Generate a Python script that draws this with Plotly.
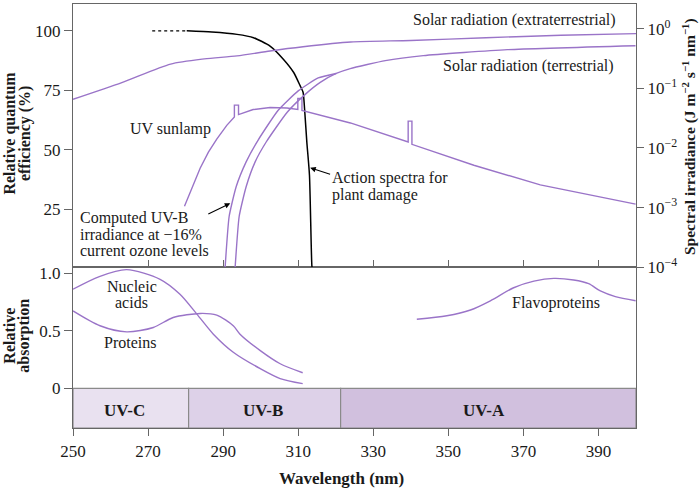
import plotly.graph_objects as go

# ---------------- data ----------------
# Solar radiation (extraterrestrial), spectral irradiance (right log axis)
ext_wl = [250, 263, 276, 285, 293.7, 302.5, 311.3, 324, 340, 360, 380, 400]
ext_irr = [0.0656, 0.125, 0.256, 0.313, 0.351, 0.425, 0.50, 0.60, 0.638, 0.708, 0.78, 0.83]

# Solar radiation (terrestrial)
ter_wl = [292.67, 293.2, 294.27, 296.13, 298.53, 301.47, 307.07, 311.87, 315.87, 320.13,
          323.87, 333.2, 343.33, 365.73, 399.87]
ter_irr = [2.69e-5, 1.0e-4, 7.08e-4, 2.24e-3, 5.85e-3, 1.26e-2, 3.98e-2, 7.94e-2, 0.126,
           0.178, 0.215, 0.293, 0.355, 0.447, 0.521]

# Computed UV-B irradiance at -16% current ozone levels
cmp_wl = [290.0, 290.53, 291.6, 293.47, 296.13, 299.33, 304.67, 310.0, 315.33, 320.13]
cmp_irr = [2.69e-5, 1.0e-4, 7.08e-4, 2.24e-3, 5.85e-3, 1.36e-2, 4.30e-2, 9.08e-2, 0.150, 0.178]

# UV sunlamp (with mercury emission spikes)
lamp_wl = [279.7, 281.65, 283.87, 286.08, 288.3, 290.97, 293.0, 293.0, 294.1, 294.1, 295.9,
           298.0, 302.5, 307.0, 309.9, 309.9, 311.0, 311.0, 323.9, 339.3, 339.3, 340.3, 340.3,
           356.8, 374.5, 399.9]
lamp_irr = [1.05e-3, 2.14e-3, 4.57e-3, 8.5e-3, 1.41e-2, 2.4e-2, 3.31e-2, 5.25e-2, 5.25e-2,
            3.63e-2, 3.98e-2, 4.42e-2, 4.79e-2, 4.68e-2, 4.42e-2, 6.76e-2, 6.76e-2, 4.27e-2,
            2.63e-2, 1.26e-2, 2.82e-2, 2.82e-2, 1.15e-2, 5.13e-3, 2.40e-3, 1.14e-3]

# Action spectra for plant damage (relative quantum efficiency, %)
act_dot_wl = [271.1, 280.3]
act_dot_eff = [100, 100]
act_wl = [280.3, 287.0, 293.7, 298.1, 302.5, 306.1, 308.8, 310.5, 311.3, 311.7, 312.3, 313.0, 313.65, 313.8]
act_eff = [100, 99.5, 98.5, 97.1, 93.6, 88.0, 82.5, 77.0, 74.2, 67.2, 53.3, 39.5, 1.25, 0]

# Relative absorption
nuc_wl = [250, 257, 264.3, 273.2, 278.5, 283.0, 287.4, 292.7, 299.9, 305.2, 311.2]
nuc_abs = [0.86, 0.97, 1.03, 0.946, 0.816, 0.644, 0.47, 0.313, 0.17, 0.084, 0.04]

prot_wl = [250, 257.2, 264.3, 271.4, 276.7, 283.9, 288.3, 292.7, 294.5, 299.9, 305.2, 311.2]
prot_abs = [0.672, 0.543, 0.49, 0.528, 0.615, 0.65, 0.635, 0.543, 0.47, 0.327, 0.213, 0.135]

flav_wl = [341.6, 349.6, 355.9, 361.2, 367.4, 372.8, 378.1, 383.4, 387.4, 390.5, 394.5, 399.9]
flav_abs = [0.60, 0.63, 0.68, 0.76, 0.873, 0.93, 0.954, 0.94, 0.908, 0.845, 0.796, 0.76]

# UV bands
band_names = ["UV-C", "UV-B", "UV-A"]
band_start = [250, 280.8, 321.3]
band_end = [280.8, 321.3, 400]
band_label_x = [263.6, 300.7, 359.4]

x_ticks = [250, 270, 290, 310, 330, 350, 370, 390]
eff_ticks = [25, 50, 75, 100]
irr_ticks = [1e-4, 1e-3, 1e-2, 1e-1, 1]
irr_ticktext = ["10<sup>−4</sup>", "10<sup>−3</sup>", "10<sup>−2</sup>", "10<sup>−1</sup>", "10<sup>0</sup>"]
abs_ticks = [0, 0.5, 1.0]
abs_ticktext = ["0", "0.5", "1.0"]

# ---------------- style ----------------
PURPLE = "#9a74c8"
FRAME = "#666666"
TXT = "#1a1a1a"
FONT = "Liberation Serif"
band_colors = ["#e9e1f0", "#ddd1e8", "#d1c0de"]
SPLIT = 162 / 427

fig = go.Figure()

def purple(x, y, xa, ya, shape="linear", smoothing=0.7):
    fig.add_trace(go.Scatter(x=x, y=y, xaxis=xa, yaxis=ya, mode="lines",
                             line=dict(color=PURPLE, width=1.4, shape=shape, smoothing=smoothing),
                             showlegend=False, hoverinfo="skip"))

purple(ext_wl, ext_irr, "x2", "y2", "spline")
purple(ter_wl, ter_irr, "x2", "y2", "spline", 0.5)
purple(cmp_wl, cmp_irr, "x2", "y2", "spline", 0.5)
purple(lamp_wl, lamp_irr, "x2", "y2")

fig.add_trace(go.Scatter(x=act_dot_wl, y=act_dot_eff, xaxis="x2", yaxis="y", mode="lines",
                         line=dict(color="black", width=1.3, dash="dot"), showlegend=False))
fig.add_trace(go.Scatter(x=act_wl, y=act_eff, xaxis="x2", yaxis="y", mode="lines",
                         line=dict(color="black", width=1.5, shape="spline", smoothing=0.6),
                         showlegend=False))

for xs, ys in [(nuc_wl, nuc_abs), (prot_wl, prot_abs), (flav_wl, flav_abs)]:
    fig.add_trace(go.Scatter(x=xs, y=ys, xaxis="x", yaxis="y3", mode="lines",
                             line=dict(color=PURPLE, width=1.4, shape="spline", smoothing=0.8),
                             showlegend=False))

shapes = []
for s, e, c in zip(band_start, band_end, band_colors):
    shapes.append(dict(type="rect", xref="x", yref="y3", x0=s, x1=e, y0=-0.345, y1=0,
                       fillcolor=c, line=dict(color="#8a8a8a", width=1.2), layer="below"))

ann = []
def txt(x, y, t, xref="x2", yref="y", size=16, xanchor="center", bold=False):
    if bold:
        t = "<b>" + t + "</b>"
    ann.append(dict(x=x, y=y, xref=xref, yref=yref, text=t, showarrow=False,
                    xanchor=xanchor, yanchor="middle",
                    font=dict(family=FONT, size=size, color=TXT)))

txt(395.2, 104.4, "Solar radiation (extraterrestrial)", xanchor="right")
txt(394.8, 85.4, "Solar radiation (terrestrial)", xanchor="right")
txt(276.1, 58.75, "UV sunlamp")
txt(318.5, 38.1, "Action spectra for", xanchor="left")
txt(318.5, 31.25, "plant damage", xanchor="left")
txt(251.25, 21.4, "Computed UV-B", xanchor="left")
txt(251.25, 14.5, "irradiance at −16%", xanchor="left")
txt(251.25, 7.8, "current ozone levels", xanchor="left")
txt(265.65, 0.888, "Nucleic", xref="x", yref="y3")
txt(265.65, 0.744, "acids", xref="x", yref="y3")
txt(265.2, 0.399, "Proteins", xref="x", yref="y3")
txt(378.7, 0.744, "Flavoproteins", xref="x", yref="y3")
for name, bx in zip(band_names, band_label_x):
    txt(bx, -0.19, name, xref="x", yref="y3", size=17, bold=True)

# axis titles as annotations (tight line spacing)
def ptitle(px, py, t, angle=-90, size=17):
    ann.append(dict(x=(px - 73) / 563, y=(428 - py) / 427, xref="paper", yref="paper",
                    text="<b>" + t + "</b>", showarrow=False, xanchor="center",
                    yanchor="middle", textangle=angle,
                    font=dict(family=FONT, size=size, color=TXT)))

ptitle(10.5, 131, "Relative quantum", size=16)
ptitle(25, 131, "efficiency (%)", size=16)
ptitle(10, 335, "Relative", size=16)
ptitle(24, 335, "absorption", size=16)
ptitle(689, 134, "Spectral irradiance (J m<sup>−2</sup> s<sup>−1</sup> nm<sup>−1</sup>)", size=15.5)
ptitle(341, 479, "Wavelength (nm)", angle=0)

# arrows
ann.append(dict(x=313.2, y=42.5, ax=318.9, ay=39.6, xref="x2", yref="y", axref="x2", ayref="y",
                text="", showarrow=True, arrowhead=2, arrowsize=1, arrowwidth=1.1,
                arrowcolor="black"))
ann.append(dict(x=291.9, y=27.6, ax=285.65, ay=22.8, xref="x2", yref="y", axref="x2", ayref="y",
                text="", showarrow=True, arrowhead=2, arrowsize=1, arrowwidth=1.1,
                arrowcolor="black"))

tickfont = dict(family=FONT, size=17, color=TXT)
common = dict(showgrid=False, zeroline=False, linecolor=FRAME, linewidth=1.2,
              tickcolor=FRAME, tickwidth=1.2, tickfont=tickfont)

fig.update_layout(
    width=700, height=488,
    margin=dict(l=73, r=64, t=1, b=60),
    paper_bgcolor="white", plot_bgcolor="rgba(0,0,0,0)",
    showlegend=False,
    shapes=shapes, annotations=ann,
    xaxis=dict(domain=[0, 1], anchor="y3", range=[250, 400], tickvals=x_ticks,
               ticks="outside", ticklen=7, showline=True, mirror=True, **common),
    xaxis2=dict(domain=[0, 1], anchor="y", range=[250, 400], tickvals=x_ticks,
                ticks="inside", ticklen=7, showticklabels=False, showline=True,
                mirror=True, matches="x", **common),
    yaxis=dict(domain=[SPLIT, 1], anchor="x2", range=[0.83, 111.25], tickvals=eff_ticks,
               ticks="outside", ticklen=8, showline=True, **common),
    yaxis2=dict(domain=[SPLIT, 1], anchor="x2", overlaying="y", side="right", type="log",
                range=[-4, 0.4167], tickvals=irr_ticks, ticktext=irr_ticktext,
                ticks="outside", ticklen=7, showline=True, **common),
    yaxis3=dict(domain=[0, SPLIT], anchor="x", range=[-0.345, 1.052], tickvals=abs_ticks,
                ticktext=abs_ticktext, ticks="outside", ticklen=8, showline=True,
                mirror=True, **common),
)

fig.write_html("out.html", config={"displayModeBar": False},
               post_script="document.body.style.margin='0';")
